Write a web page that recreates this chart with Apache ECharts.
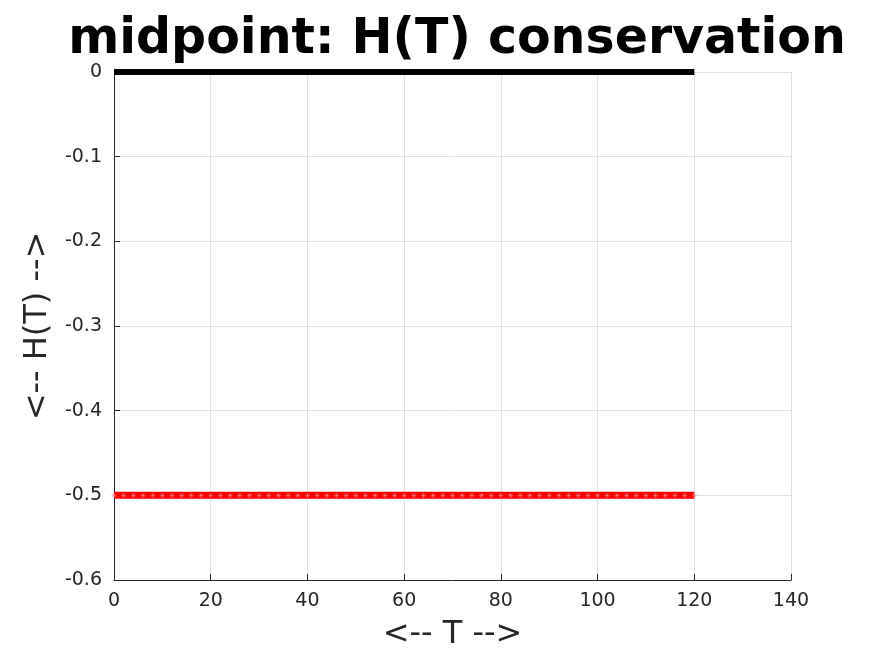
<!DOCTYPE html>
<html><head><meta charset="utf-8">
<script src="https://cdn.jsdelivr.net/npm/echarts@6/dist/echarts.min.js"></script>
<style>html,body{margin:0;padding:0;background:#fff}#c{width:875px;height:656px}</style>
</head><body><div id="c"></div>
<script>
const T = [0,2,4,6,8,10,12,14,16,18,20,22,24,26,28,30,32,34,36,38,40,42,44,46,48,50,52,54,56,58,60,62,64,66,68,70,72,74,76,78,80,82,84,86,88,90,92,94,96,98,100,102,104,106,108,110,112,114,116,118,120];
const H_exact = [0,0,0,0,0,0,0,0,0,0,0,0,0,0,0,0,0,0,0,0,0,0,0,0,0,0,0,0,0,0,0,0,0,0,0,0,0,0,0,0,0,0,0,0,0,0,0,0,0,0,0,0,0,0,0,0,0,0,0,0,0];
const H_mid = [-0.5,-0.5,-0.5,-0.5,-0.5,-0.5,-0.5,-0.5,-0.5,-0.5,-0.5,-0.5,-0.5,-0.5,-0.5,-0.5,-0.5,-0.5,-0.5,-0.5,-0.5,-0.5,-0.5,-0.5,-0.5,-0.5,-0.5,-0.5,-0.5,-0.5,-0.5,-0.5,-0.5,-0.5,-0.5,-0.5,-0.5,-0.5,-0.5,-0.5,-0.5,-0.5,-0.5,-0.5,-0.5,-0.5,-0.5,-0.5,-0.5,-0.5,-0.5,-0.5,-0.5,-0.5,-0.5,-0.5,-0.5,-0.5,-0.5,-0.5,-0.5];
const xTicks = [0,20,40,60,80,100,120,140];
const yTicks = [-0.6,-0.5,-0.4,-0.3,-0.2,-0.1,0];
const FONT = 'DejaVu Sans';
const chart = echarts.init(document.getElementById('c'), null, {renderer:'canvas'});
chart.setOption({
  animation:false,
  backgroundColor:'#fff',
  title:{text:'midpoint: H(T) conservation', left:452, top:11, textAlign:'center',
    textStyle:{fontFamily:FONT, fontSize:49, fontWeight:'bold', color:'#000'}},
  grid:{left:114, right:84, top:72, bottom:76},
  xAxis:{type:'value', min:0, max:140, interval:20,
    name:'<-- T -->', nameLocation:'middle', nameGap:39,
    nameTextStyle:{fontFamily:FONT, fontSize:32, color:'#262626'},
    axisLine:{show:true, onZero:false, lineStyle:{color:'#262626', width:1}},
    axisTick:{show:true, inside:true, length:6, lineStyle:{color:'#262626'}},
    axisLabel:{fontFamily:FONT, fontSize:19, color:'#262626', margin:12},
    splitLine:{show:true, lineStyle:{color:'#e0e0e0', width:1}}},
  yAxis:{type:'value', min:-0.6, max:0, interval:0.1,
    name:'<-- H(T) -->', nameLocation:'middle', nameGap:58, nameRotate:90,
    nameTextStyle:{fontFamily:FONT, fontSize:32, color:'#262626'},
    axisLine:{show:true, onZero:false, lineStyle:{color:'#262626', width:1}},
    axisTick:{show:true, inside:true, length:6, lineStyle:{color:'#262626'}},
    axisLabel:{fontFamily:FONT, fontSize:19, color:'#262626', margin:12,
      formatter:v=>{const r=Math.round(v*10)/10; return r===0?'0':String(r);}},
    splitLine:{show:true, lineStyle:{color:'#e0e0e0', width:1}}},
  series:[
    {type:'line', data:T.map((t,i)=>[t,H_exact[i]]), symbol:'none',
      lineStyle:{color:'#000', width:6}, clip:false, z:3},
    {type:'line', data:T.map((t,i)=>[t,H_mid[i]]), symbol:'path://M0,-10L0,10M-10,0L10,0M-7,-7L7,7M-7,7L7,-7', symbolSize:5,
      itemStyle:{color:'#ff0000', borderColor:'#ff8080', borderWidth:0.6},
      lineStyle:{color:'#ff0000', width:7}, z:2}
  ]
});
</script></body></html>
